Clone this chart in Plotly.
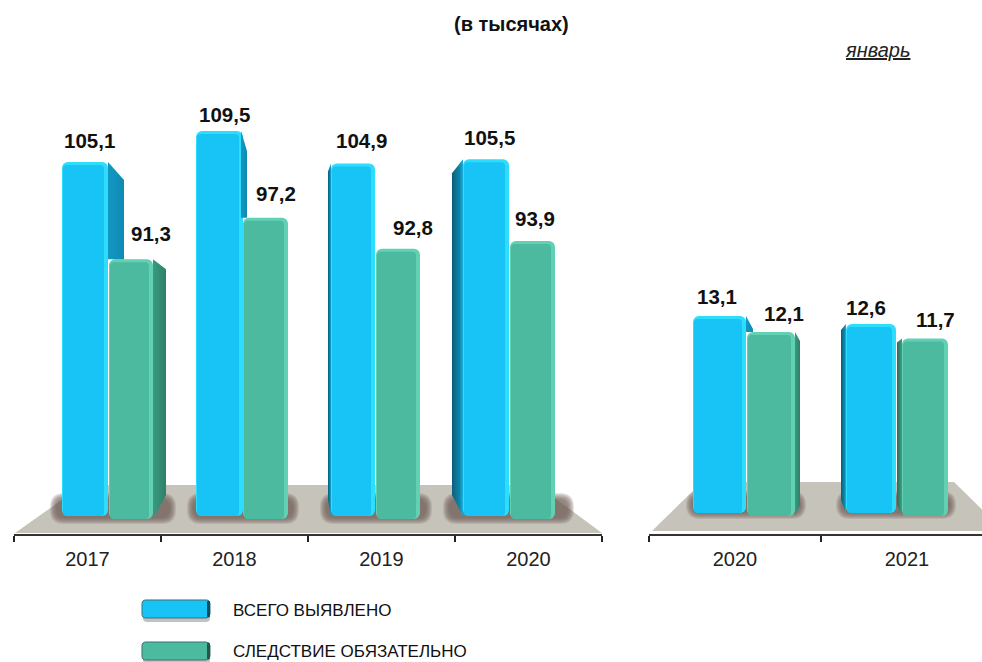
import plotly.graph_objects as go

# ---------- data ----------
series_names = ["ВСЕГО ВЫЯВЛЕНО", "СЛЕДСТВИЕ ОБЯЗАТЕЛЬНО"]
years_a = ["2017", "2018", "2019", "2020"]
total_a = [105.1, 109.5, 104.9, 105.5]
mandatory_a = [91.3, 97.2, 92.8, 93.9]
years_b = ["2020", "2021"]
total_b = [13.1, 12.6]
mandatory_b = [12.1, 11.7]

# ---------- style / layout constants (px in the 982x662 picture) ----------
W, H = 982, 662
FONT = "Liberation Sans, Arial, sans-serif"
CY, CY_LIGHT, CY_DARK = "#17c4f5", "#2edcfc", "#0f8fb8"
GR, GR_LIGHT, GR_DARK = "#4cba9e", "#62d0b3", "#2f8469"
CY_SIDE_R = [[0, "#1398c4"], [1, "#0f8ab2"]]
CY_SIDE_L = [[0, "#0a5f7a"], [0.7, "#0f86ab"], [1, "#17b4e2"]]
GR_SIDE_R = [[0, "#3a9a80"], [1, "#2f8068"]]
GR_SIDE_L = [[0, "#2a6f5a"], [1, "#3f9f85"]]
TOP_PX, BOT_PX = 100, 534


class Panel:
    def __init__(self, x0, x1, unit, ref_val, ref_px, scale):
        self.x0, self.x1, self.unit = x0, x1, unit
        self.ref_val, self.ref_px, self.scale = ref_val, ref_px, scale

    def xd(self, px):
        return (px - self.x0) / self.unit

    def yd(self, px):
        return self.ref_val + (self.ref_px - px) / self.scale


A = Panel(14, 602, 147, total_a[0], 162, 7.05)
B = Panel(649, 982, 172, total_b[0], 316, 16.0)

# front faces (left, right) in px
front_cy_a = [(62, 108), (196, 243), (331, 375), (463, 509)]
front_gr_a = [(109, 153), (243, 288), (376, 420), (510, 555)]
front_cy_b = [(693, 746), (846, 896)]
front_gr_b = [(747, 795), (902, 948)]
# side faces: (from x, to x, chamfer px, bottom px or None = stop at green top)
side_cy_a = [(108, 124, 18, None), (241, 247, 20, None), (331, 328, 8, 500), (463, 452, 14, 495)]
side_gr_a = [(153, 166, 10, 495), None, None, None]
side_cy_b = [(746, 753, 13, None), (846, 841, 6, 500)]
side_gr_b = [(795, 800, 9, 505), (902, 897, 4, 505)]
# value-label centres: x px and gap above the bar top
lab_cy_a = [(89, 21), (224, 16), (361, 23), (489, 22)]
lab_gr_a = [(151, 26), (276, 24), (413, 21), (535, 22)]
lab_cy_b = [(717, 20), (866, 17)]
lab_gr_b = [(784, 19), (935, 19)]

fig = go.Figure()
annotations, shapes = [], []


def P(x, y):
    return f"{x / W:.5f} {1 - y / H:.5f}"


def poly(points, color, layer="below", opacity=1.0):
    path = "M " + " L ".join(P(x, y) for x, y in points) + " Z"
    shapes.append(dict(type="path", xref="paper", yref="paper", path=path, fillcolor=color,
                       line=dict(width=0), layer=layer, opacity=opacity))


def rrect(x0, y0, x1, y1, r, color, layer="below", opacity=1.0, line=None):
    path = (f"M {P(x0 + r, y0)} L {P(x1 - r, y0)} Q {P(x1, y0)} {P(x1, y0 + r)} L {P(x1, y1 - r)} "
            f"Q {P(x1, y1)} {P(x1 - r, y1)} L {P(x0 + r, y1)} Q {P(x0, y1)} {P(x0, y1 - r)} "
            f"L {P(x0, y0 + r)} Q {P(x0, y0)} {P(x0 + r, y0)} Z")
    shapes.append(dict(type="path", xref="paper", yref="paper", path=path, fillcolor=color,
                       line=line or dict(width=0), layer=layer, opacity=opacity))


def shadow(x0, y0, x1, y1):
    for grow in (4, 3, 2, 1, 0, -1, -2):
        rrect(x0 - grow, y0 - grow, x1 + grow, y1 + grow, 10 + max(grow, 0), "#6b5a50", opacity=0.16)


# floors
poly([(15, 533), (83, 485), (537, 485), (602, 533)], "#c6c3ba")
poly([(652, 531), (702, 482), (954, 482), (1004, 531)], "#c6c3ba")
for s in [(54, 497, 172, 520), (191, 497, 295, 520), (324, 497, 428, 520), (447, 497, 570, 520),
          (690, 495, 802, 515), (840, 495, 952, 515)]:
    shadow(*s)


def add_series(panel, name, xref, yref, centers, values, fronts, sides, labels, base_px,
               main, light, side_r, side_l, other=None):
    xa, ya = xref, yref
    base = panel.yd(base_px)
    lefts = [panel.xd(f[0]) for f in fronts]
    rights = [panel.xd(f[1]) for f in fronts]
    # light rim bar
    fig.add_trace(go.Bar(x=centers, y=[v - base for v in values], base=base, name=name, xaxis=xa, yaxis=ya,
                         offset=[l - c for l, c in zip(lefts, centers)],
                         width=[r - l for l, r in zip(lefts, rights)],
                         marker=dict(color=light, line=dict(width=0), cornerradius=6), showlegend=False))
    # main face
    inset_top = 3 / panel.scale
    inl, inr = 1 / panel.unit, 4 / panel.unit
    fig.add_trace(go.Bar(x=centers, y=[v - inset_top - base for v in values], base=base, xaxis=xa, yaxis=ya,
                         offset=[l + inl - c for l, c in zip(lefts, centers)],
                         width=[r - l - inl - inr for l, r in zip(lefts, rights)],
                         marker=dict(color=main, line=dict(width=0), cornerradius=4), showlegend=False,
                         hoverinfo="skip"))
    # side faces
    for i, s in enumerate(sides):
        if s is None:
            continue
        fx, tx, ch, bottom = s
        low = other[i] if bottom is None else panel.yd(bottom)
        low2 = other[i] if bottom is None else base
        xs = [panel.xd(fx), panel.xd(tx), panel.xd(tx), panel.xd(fx)]
        ys = [values[i], values[i] - ch / panel.scale, low, low2]
        scale = side_r if tx > fx else side_l
        fig.add_trace(go.Scatter(x=xs, y=ys, fill="toself", mode="lines", line=dict(width=0), xaxis=xa, yaxis=ya,
                                 fillgradient=dict(type="horizontal", colorscale=scale),
                                 showlegend=False, hoverinfo="skip"))
    # value labels
    for i, (lx, gap) in enumerate(labels):
        annotations.append(dict(x=panel.xd(lx), y=values[i], xref=xa, yref=ya, yshift=gap, showarrow=False,
                                yanchor="middle", xanchor="center",
                                text=f"<b>{str(values[i]).replace('.', ',')}</b>",
                                font=dict(family=FONT, size=20.5, color="#111111")))


centers_a = [i + 0.5 for i in range(len(years_a))]
centers_b = [i + 0.5 for i in range(len(years_b))]

add_series(A, series_names[0], "x", "y", centers_a, total_a, front_cy_a, side_cy_a, lab_cy_a, 516,
           CY, CY_LIGHT, CY_SIDE_R, CY_SIDE_L, other=mandatory_a)
add_series(A, series_names[1], "x", "y", centers_a, mandatory_a, front_gr_a, side_gr_a, lab_gr_a, 519,
           GR, GR_LIGHT, GR_SIDE_R, GR_SIDE_L)
add_series(B, series_names[0], "x2", "y2", centers_b, total_b, front_cy_b, side_cy_b, lab_cy_b, 513,
           CY, CY_LIGHT, CY_SIDE_R, CY_SIDE_L, other=mandatory_b)
add_series(B, series_names[1], "x2", "y2", centers_b, mandatory_b, front_gr_b, side_gr_b, lab_gr_b, 516,
           GR, GR_LIGHT, GR_SIDE_R, GR_SIDE_L)

# legend drawn as swatches + real text
for (y0, y1, c, dark, name, ty) in [(600, 618, CY, "#0b4f66", series_names[0], 610),
                                    (642, 660, GR, "#1f5a48", series_names[1], 651)]:
    rrect(143, y0 + 3, 210, y1 + 4, 4, "#8f8f8f", opacity=0.55)
    rrect(142, y0, 210, y1, 4, c, line=dict(width=1, color="#3c6f7a"))
    rrect(207, y0 + 1, 210, y1 - 1, 1, dark)
    annotations.append(dict(x=231 / W, y=1 - ty / H, xref="paper", yref="paper", showarrow=False,
                            xanchor="left", yanchor="middle", text=name,
                            font=dict(family=FONT, size=17, color="#111111")))

annotations.append(dict(x=511 / W, y=1 - 24 / H, xref="paper", yref="paper", showarrow=False, xanchor="center",
                        yanchor="middle", text="<b>(в тысячах)</b>",
                        font=dict(family=FONT, size=20, color="#111111")))
annotations.append(dict(x=877 / W, y=1 - 50 / H, xref="paper", yref="paper", showarrow=False, xanchor="center",
                        yanchor="middle", text="<i><u>январь</u></i>",
                        font=dict(family=FONT, size=20, color="#222222")))


def xaxis(panel, labels):
    n = len(labels)
    return dict(domain=[panel.x0 / W, panel.x1 / W], range=[0, (panel.x1 - panel.x0) / panel.unit],
                tickmode="array", tickvals=[i + 0.5 for i in range(n)], ticktext=labels, ticks="",
                showgrid=False, zeroline=False, showline=True, linecolor="#333333", linewidth=1.5,
                tickfont=dict(family=FONT, size=20, color="#222222"),
                minor=dict(tickmode="array", tickvals=list(range(n + 1)), ticks="outside", ticklen=6,
                           tickwidth=1.5, tickcolor="#222222", showgrid=False),
                fixedrange=True, ticklabelstandoff=6)


def yaxis(panel, anchor):
    return dict(domain=[1 - BOT_PX / H, 1 - TOP_PX / H], range=[panel.yd(BOT_PX), panel.yd(TOP_PX)],
                visible=False, anchor=anchor, fixedrange=True)


fig.update_layout(
    width=W, height=H, autosize=False, margin=dict(l=0, r=0, t=0, b=0),
    paper_bgcolor="white", plot_bgcolor="rgba(0,0,0,0)", barmode="overlay", showlegend=False,
    xaxis=dict(anchor="y", **xaxis(A, years_a)), yaxis=yaxis(A, "x"),
    xaxis2=dict(anchor="y2", **xaxis(B, years_b)), yaxis2=yaxis(B, "x2"),
    shapes=shapes, annotations=annotations,
)

fig.write_html("out.html", config={"displayModeBar": False},
               post_script="document.body.style.margin='0';document.documentElement.style.overflow='hidden';")
